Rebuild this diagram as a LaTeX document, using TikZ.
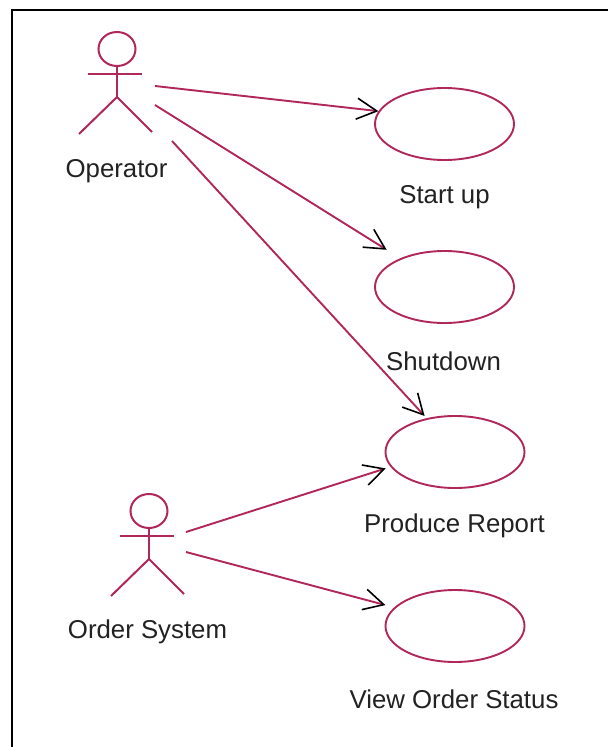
\documentclass[tikz,border=0pt]{standalone}
\usepackage{fontspec}
\setmainfont{Liberation Sans}
\usetikzlibrary{arrows.meta,shapes.geometric}
\definecolor{umlred}{HTML}{B0275A}
\definecolor{txt}{HTML}{222222}
\tikzset{
  usecase/.style={draw=umlred,line width=1.9pt,ellipse,minimum width=139pt,minimum height=72pt,inner sep=0pt},
  head/.style={draw=umlred,line width=2pt,ellipse,minimum width=37pt,minimum height=34pt,inner sep=0pt},
  limb/.style={draw=umlred,line width=2pt},
  lbl/.style={text=txt,font=\fontsize{25.8}{29}\selectfont,inner sep=0pt},
  assoc/.style={draw=umlred,line width=1.9pt,-{Straight Barb[color=black,length=20pt,width=21pt,line width=1.6pt]}},
  frameline/.style={draw=black,line width=2.5pt}
}
\newcommand{\actorfig}[3]{%
  \node[head] (#1) at (#2,#3) {};
  \coordinate (#1hip) at (#2,#3+48);
  \coordinate (#1l) at (#2-38,#3+85);
  \coordinate (#1r) at (#2+35,#3+83);
  \coordinate (#1al) at (#2-29,#3+25);
  \coordinate (#1ar) at (#2+25,#3+25);
  \draw[limb] (#1.south) -- (#1hip);
  \draw[limb] (#1al) -- (#1ar);
  \draw[limb] (#1l) -- (#1hip) -- (#1r);
}
\begin{document}
\begin{tikzpicture}[x=1pt,y=-1pt]
\useasboundingbox (0,0) rectangle (608,747);
\fill[white] (0,0) rectangle (608,747);
\coordinate (fa) at (12,747);
\coordinate (fb) at (12,10);
\coordinate (fc) at (608,10);
\draw[frameline] (fa) -- (fb) -- (fc);

\actorfig{op}{117}{49}
\actorfig{os}{149}{511}
\node[lbl] (oplabel) at (116.5,171) {Operator};
\node[lbl] (oslabel) at (147.5,632) {Order System};

\node[usecase] (u1) at (444.5,124) {};
\node[usecase] (u2) at (444.5,287) {};
\node[usecase] (u3) at (455,452) {};
\node[usecase] (u4) at (455,626) {};
\node[lbl] (l1) at (444.5,197) {Start up};
\node[lbl] (l2) at (443.5,361) {Shutdown};
\node[lbl] (l3) at (454.5,526) {Produce Report};
\node[lbl] (l4) at (454,699) {View Order Status};

\coordinate (s1) at (155,86);
\coordinate (s2) at (155,105);
\coordinate (s3) at (172,141);
\coordinate (s4) at (186,532);
\coordinate (s5) at (186,552);
\draw[assoc] (s1) -- (u1.169);
\draw[assoc,shorten >=16pt] (s2) -- (u2.147);
\draw[assoc,shorten >=3pt] (s3) -- (u3.130);
\draw[assoc,shorten >=5pt] (s4) -- (u3.193);
\draw[assoc,shorten >=9pt] (s5) -- (u4.163);
\end{tikzpicture}
\end{document}
